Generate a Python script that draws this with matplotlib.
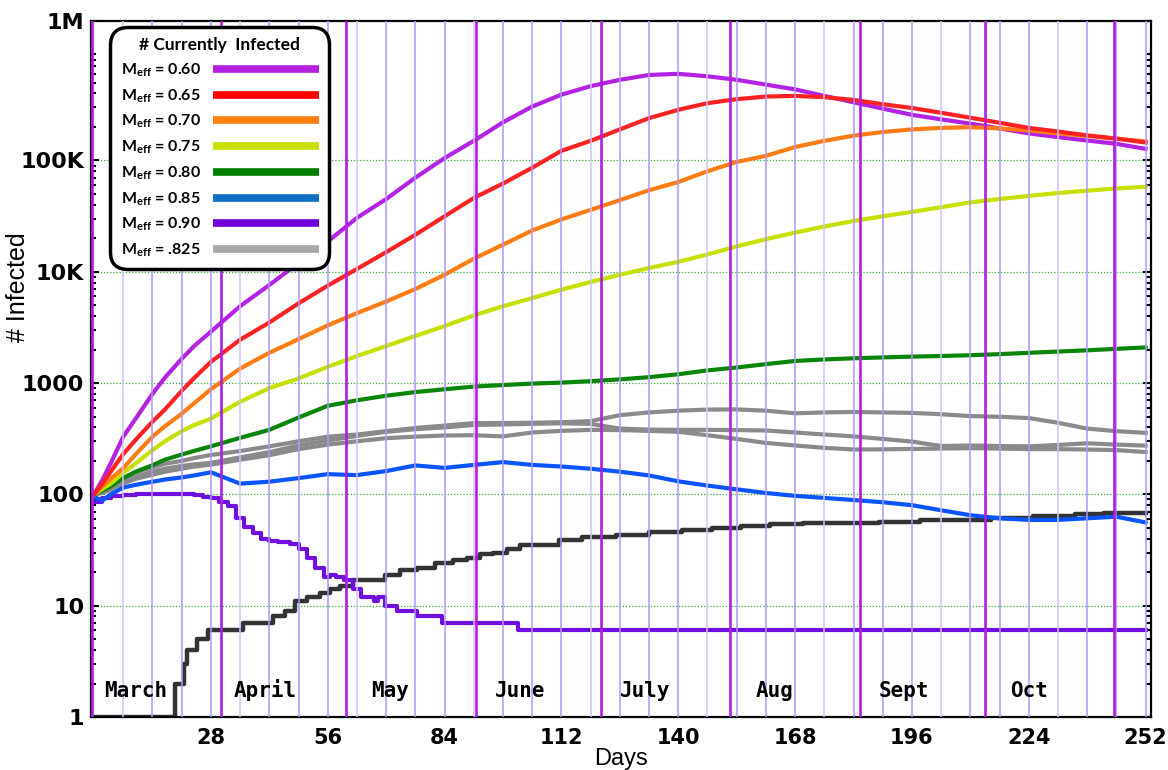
import matplotlib.pyplot as plt
from matplotlib.lines import Line2D
from matplotlib.ticker import FixedLocator, LogLocator, NullFormatter

# sampled days shared by the smooth model curves
days = [0, 2, 4, 7, 10, 14, 17, 21, 24, 28, 35, 42, 49, 56, 63, 70, 77, 84, 91, 98,
        105, 112, 119, 126, 133, 140, 147, 154, 161, 168, 175, 182, 189, 196, 203,
        210, 217, 224, 231, 238, 245, 252]

inf_060 = [100, 135, 190, 330, 480, 800, 1120, 1650, 2150, 2900, 4900, 7600, 12000,
           18700, 30500, 45000, 70000, 105000, 150000, 220000, 305000, 390000, 465000,
           530000, 586000, 600000, 570000, 530000, 480000, 435000, 380000, 333000,
           292000, 257000, 234000, 214000, 194000, 175000, 162000, 151000, 141000, 127000]
inf_065 = [100, 125, 160, 230, 310, 450, 580, 850, 1110, 1550, 2450, 3500, 5200, 7500,
           10600, 15000, 21500, 31500, 46000, 62000, 86000, 122000, 150000, 190000,
           240000, 285000, 327000, 355000, 375000, 380000, 370000, 350000, 320000,
           296000, 268000, 242000, 218000, 196000, 182000, 168000, 157000, 145000]
inf_070 = [100, 118, 138, 172, 230, 330, 410, 530, 660, 880, 1350, 1870, 2480, 3300,
           4250, 5400, 7000, 9400, 13100, 17500, 23500, 29500, 36000, 44000, 54000,
           64000, 80000, 97000, 110000, 132000, 150000, 167000, 180000, 190000, 196000,
           199000, 194000, 186000, 175000, 166000, 157000, 148000]
inf_075 = [100, 112, 125, 156, 190, 250, 300, 370, 420, 480, 680, 900, 1100, 1400, 1750,
           2150, 2650, 3250, 4050, 4900, 5800, 6900, 8100, 9400, 10800, 12300, 14300,
           16900, 19600, 22500, 25500, 28600, 31500, 34500, 38000, 42000, 45000, 48000,
           51000, 53500, 56000, 58000]
inf_080 = [100, 108, 118, 140, 160, 183, 205, 228, 246, 270, 322, 380, 490, 625, 700,
           770, 830, 880, 930, 960, 990, 1010, 1040, 1080, 1130, 1200, 1300, 1380, 1480,
           1580, 1630, 1670, 1700, 1730, 1750, 1780, 1820, 1870, 1920, 1970, 2030, 2090]
inf_085 = [95, 88, 100, 115, 122, 130, 136, 142, 148, 158, 125, 130, 140, 152, 149, 162,
           182, 173, 184, 195, 184, 178, 170, 160, 148, 131, 120, 111, 103, 97, 93, 89,
           85, 80, 72, 65, 61, 59, 59, 61, 63, 56]
# three runs at M_eff = .825
inf_0825_a = [100, 108, 118, 140, 158, 175, 188, 200, 212, 226, 245, 270, 300, 330, 345,
              370, 395, 415, 437, 438, 440, 445, 455, 515, 545, 565, 578, 580, 565, 535,
              545, 550, 545, 540, 525, 505, 498, 485, 440, 390, 370, 357]
inf_0825_b = [100, 105, 112, 130, 145, 160, 170, 180, 186, 192, 215, 240, 275, 305, 335,
              365, 385, 400, 420, 425, 430, 435, 430, 390, 382, 380, 380, 378, 375, 360,
              345, 332, 315, 298, 272, 275, 272, 270, 278, 288, 280, 274]
inf_0825_c = [100, 103, 110, 125, 138, 150, 160, 170, 178, 185, 205, 225, 255, 280, 300,
              320, 330, 338, 340, 332, 360, 372, 380, 378, 372, 365, 340, 315, 290, 275,
              262, 253, 254, 256, 258, 260, 258, 255, 255, 253, 250, 240]

# M_eff = 0.90 dies out, counts held between changes
days_090 = [0, 2, 4, 7, 10, 14, 18, 21, 24, 26, 28, 30, 32, 34, 36, 38, 40, 42, 44, 47,
            49, 51, 53, 55, 56.5, 58, 60, 62, 64, 67, 68, 69.8, 72.6, 77.5, 83.5, 101.7, 252]
inf_090 = [86, 92, 97, 99, 100, 100, 101, 100, 99, 95, 92, 86, 78, 62, 51, 45, 40, 38,
           37, 36, 32, 27, 22, 18, 19, 18, 17, 14, 12, 11, 12, 10, 9, 8, 7, 6, 6]

# unlabelled baseline run
days_base = [0, 19.3, 21.5, 22.3, 24.6, 27.3, 35.7, 42.9, 45.7, 48.1, 51, 54.1, 56.5,
             58.9, 62, 69.7, 73.3, 77.3, 81.6, 86, 89.3, 92.4, 95.5, 98.9, 102, 111.5,
             117, 125.2, 133, 141, 148, 155, 162, 170, 188, 198, 215, 225, 235, 242, 252]
inf_base = [1, 2, 3, 4, 5, 6, 7, 8, 9, 11, 12, 13, 14, 15, 17, 19, 21, 22, 24, 26, 27,
            29, 30, 32, 35, 39, 41, 43, 46, 48, 50, 52, 54, 55, 57, 59, 62, 64, 66, 68, 68]

meff_labels = ['0.60', '0.65', '0.70', '0.75', '0.80', '0.85', '0.90', '.825']
line_colors = ['#b422e4', '#ff2222', '#ff7d14', '#c6e000', '#0a850a', '#0a55ff',
               '#7010e0', '#8a8a8a']
legend_colors = ['#b51fe0', '#ff0000', '#ff7f10', '#c8e000', '#008000', '#0f6fc6',
                 '#7000d8', '#a9a9a9']

month_names = ['March', 'April', 'May', 'June', 'July', 'Aug', 'Sept', 'Oct']
month_starts = [0, 31, 61, 92, 122, 153, 184, 214, 245]

ytick_vals = [1, 10, 100, 1000, 1e4, 1e5, 1.8e6]
ytick_labels = ['1', '10', '100', '1000', '10K', '100K', '1M']
xtick_vals = [28, 56, 84, 112, 140, 168, 196, 224, 252]

plt.rcParams['mathtext.fontset'] = 'custom'
plt.rcParams['mathtext.rm'] = 'Lato'
plt.rcParams['mathtext.bf'] = 'Lato:bold'

fig = plt.figure(figsize=(11.68, 7.70), dpi=100)
ax = fig.add_axes([0.078, 0.0688, 0.9075, 0.9043])
ax.set_yscale('log')
ax.set_xlim(-0.7, 253.3)
ax.set_ylim(1, 1.8e6)

# decade grid
for v in ytick_vals[1:-1]:
    ax.axhline(v, color='#33aa33', lw=0.9, ls=(0, (1, 1.5)), zorder=1)

# weekly and monthly markers
for d in range(7, 253, 7):
    col = '#d2c2ff' if d % 28 == 7 else '#b096ff'
    ax.axvline(d, color=col, lw=1.1, zorder=3)
for m in month_starts:
    ax.axvline(m - 0.5, color='#b01ee0', lw=1.9, zorder=3.5)

lw = 3.0
for series in (inf_0825_a, inf_0825_b, inf_0825_c):
    ax.plot(days, series, color=line_colors[7], lw=lw, zorder=2)
ax.plot(days_base, inf_base, color='#333333', lw=3.2, drawstyle='steps-post', zorder=2)
ax.plot(days_090, inf_090, color=line_colors[6], lw=lw, drawstyle='steps-post', zorder=2)
ax.plot(days, inf_085, color=line_colors[5], lw=lw, zorder=2)
ax.plot(days, inf_080, color=line_colors[4], lw=lw, zorder=2)
ax.plot(days, inf_075, color=line_colors[3], lw=lw, zorder=2)
ax.plot(days, inf_060, color=line_colors[0], lw=lw, zorder=2)
ax.plot(days, inf_070, color=line_colors[2], lw=lw, zorder=2)
ax.plot(days, inf_065, color=line_colors[1], lw=lw, zorder=2)

for name, start in zip(month_names, month_starts):
    ax.text(start + 10, 1.5, name, ha='center', va='baseline', fontsize=15,
            fontfamily='DejaVu Sans Mono', fontweight='bold', zorder=5)

ax.yaxis.set_major_locator(FixedLocator(ytick_vals))
ax.set_yticklabels(ytick_labels, fontsize=16, fontweight='bold', fontfamily='DejaVu Sans')
ax.yaxis.set_minor_locator(LogLocator(base=10, subs=range(2, 10)))
ax.yaxis.set_minor_formatter(NullFormatter())
ax.set_xticks(xtick_vals)
ax.set_xticklabels([str(t) for t in xtick_vals], fontsize=15, fontweight='bold',
                   fontfamily='DejaVu Sans')
ax.tick_params(axis='y', which='both', direction='in', left=True, right=True, pad=5)
ax.tick_params(axis='y', which='major', length=6, width=1.5)
ax.tick_params(axis='y', which='minor', length=3.5, width=1.5)
ax.tick_params(axis='x', direction='in', length=0, pad=8)

for sp in ax.spines.values():
    sp.set_linewidth(1.6)
    sp.set_color('black')

ax.set_xlabel('Days', fontsize=17, fontfamily='Liberation Sans', labelpad=0)
ax.set_ylabel('# Infected', fontsize=18, fontfamily='Liberation Sans')
ax.yaxis.set_label_coords(-0.058, 0.618)

handles = [Line2D([], [], color=c, lw=5.5, solid_capstyle='butt') for c in legend_colors]
labels = [r'$\mathbf{M_{eff}}$ = ' + v for v in meff_labels]
leg = ax.legend(handles, labels, loc='upper left', bbox_to_anchor=(0.018, 0.991),
                borderaxespad=0, title='# Currently  Infected', markerfirst=False,
                handlelength=6.6, handletextpad=0.8, labelspacing=0.52, borderpad=0.65,
                frameon=True, fancybox=True, framealpha=1,
                prop={'family': 'Lato', 'weight': 'bold', 'size': 11.5},
                title_fontproperties={'family': 'Lato', 'weight': 'bold', 'size': 12.5})
frame = leg.get_frame()
frame.set_edgecolor('black')
frame.set_linewidth(2.5)
frame.set_boxstyle('round', pad=0.0, rounding_size=1.1)
leg.set_zorder(10)

fig.savefig('out.png', dpi=100)
